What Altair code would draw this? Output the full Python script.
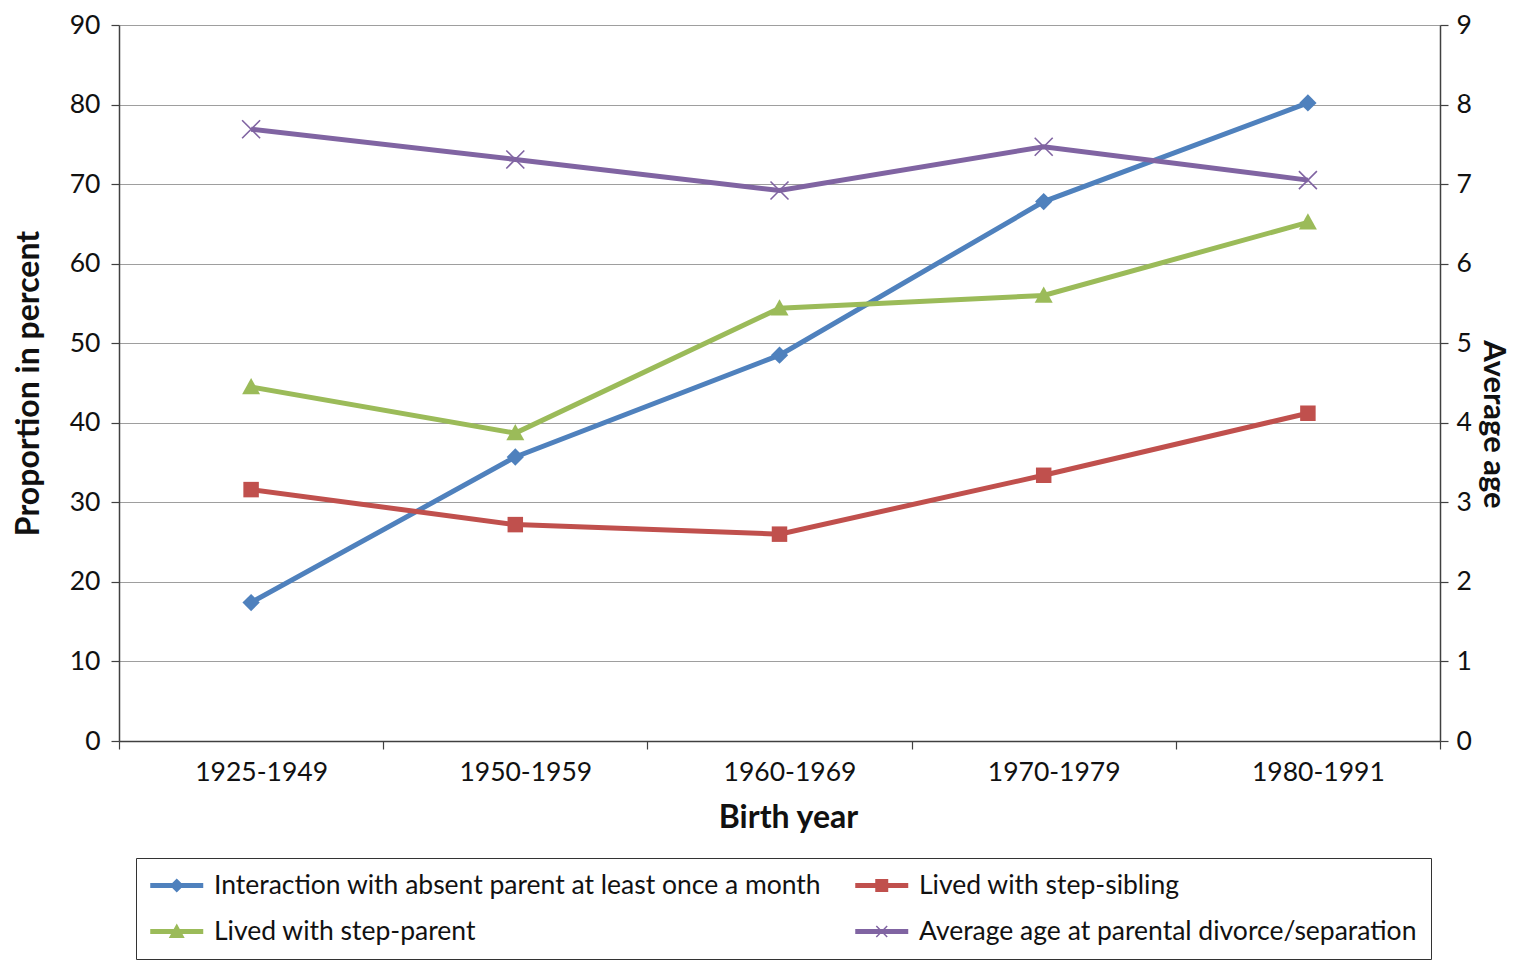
import altair as alt
import pandas as pd

categories = ["1925-1949", "1950-1959", "1960-1969", "1970-1979", "1980-1991"]
interaction = [17.4, 35.7, 48.5, 67.8, 80.2]
step_sibling = [31.6, 27.2, 26.0, 33.4, 41.2]
step_parent = [44.5, 38.7, 54.4, 56.0, 65.2]
avg_age = [7.69, 7.31, 6.92, 7.47, 7.05]

# order follows the legend's column-wise layout
series_names = [
    "Interaction with absent parent at least once a month",
    "Lived with step-parent",
    "Lived with step-sibling",
    "Average age at parental divorce/separation",
]
series_values = [interaction, step_parent, step_sibling, avg_age]
series_colors = ["#4F81BD", "#9BBB59", "#C0504D", "#8064A2"]
left_ticks = list(range(0, 91, 10))
right_ticks = list(range(0, 10))

FONT = "Lato"
TXT = "#111111"
AXC = "#404040"

rows = []
for name, vals in zip(series_names, series_values):
    for c, v in zip(categories, vals):
        rows.append({"category": c, "series": name, "value": v})
df = pd.DataFrame(rows)

# marker shapes on the plot
marker_shapes = [
    dict(shape="M0,-1L1,0L0,1L-1,0Z", size=300, filled=True),
    dict(shape="M0,-1L1,0.8L-1,0.8Z", size=324, filled=True),
    dict(shape="square", size=240, filled=True),
    dict(shape="M-1,-1L1,1M-1,1L1,-1", size=324, filled=False, strokeWidth=1.6),
]

# legend symbols: line + marker (unit box, x from -1 to 3, marker at x=1)
LINE = "M-1,-0.19H3V0.19H-1Z"
legend_paths = [
    LINE + "M1,-0.53L1.53,0L1,0.53L0.47,0Z",
    LINE + "M1,-0.6L1.6,0.5H0.4Z",
    LINE + "M0.51,-0.49H1.49V0.49H0.51Z",
    LINE + "M0.55,-0.37L0.63,-0.45L1.45,0.37L1.37,0.45Z"
         + "M1.45,-0.37L0.63,0.45L0.55,0.37L1.37,-0.45Z",
]

x_enc = alt.X(
    "category:N",
    sort=categories,
    bandPosition=0.5,
    scale=alt.Scale(type="band", domain=categories, paddingInner=0, paddingOuter=0),
    axis=alt.Axis(
        tickBand="extent", tickSize=8, tickColor=AXC, tickWidth=1.2,
        domainColor=AXC, domainWidth=1.5, labelAngle=0, labelOffset=10,
        labelFont=FONT, labelFontSize=26.5, labelColor=TXT, labelPadding=10,
        titleFont=FONT, titleFontSize=32, titleFontWeight="bold", titleColor=TXT,
        titlePadding=17, titleX=669, grid=False,
    ),
    title="Birth year",
)

y_left = alt.Y(
    "value:Q",
    scale=alt.Scale(domain=[0, 90], nice=False, zero=True),
    axis=alt.Axis(
        values=left_ticks, grid=True, gridColor="#9E9E9E", gridWidth=1.2,
        tickSize=8, tickColor=AXC, tickWidth=1.2, domainColor=AXC, domainWidth=1.5,
        labelFont=FONT, labelFontSize=26.5, labelColor=TXT, labelPadding=11,
        titleFont=FONT, titleFontSize=32, titleFontWeight="bold", titleColor=TXT,
        titlePadding=24,
    ),
    title="Proportion in percent",
)

y_right = alt.Y(
    "value:Q",
    scale=alt.Scale(domain=[0, 9], nice=False, zero=True),
    axis=alt.Axis(
        orient="right", values=right_ticks, grid=False,
        tickSize=8, tickColor=AXC, tickWidth=1.2, domainColor=AXC, domainWidth=1.5,
        labelFont=FONT, labelFontSize=26.5, labelColor=TXT, labelPadding=8,
        titleFont=FONT, titleFontSize=31, titleFontWeight="bold", titleColor=TXT,
        titlePadding=5, titleY=399,
    ),
    title="Average age",
)

base = alt.Chart(df)

left_layers = []
right_layers = []
for i, name in enumerate(series_names):
    y_enc = y_right if i == 3 else y_left
    line = base.transform_filter(alt.datum.series == name).mark_line(
        color=series_colors[i], strokeWidth=5
    ).encode(x=x_enc, y=y_enc)
    ms = marker_shapes[i]
    pt = base.transform_filter(alt.datum.series == name).mark_point(
        color=series_colors[i], opacity=1, **ms
    ).encode(x=x_enc, y=y_enc)
    if i == 3:
        right_layers += [line, pt]
    else:
        left_layers += [line, pt]

legend = alt.Legend(
    title=None, orient="none", legendX=17, legendY=833, columns=2,
    columnPadding=33, rowPadding=19, padding=14, strokeColor="#333333",
    symbolSize=702, symbolStrokeWidth=0, symbolOpacity=1, labelOffset=37,
    labelFont=FONT, labelFontSize=26.5, labelColor=TXT, labelLimit=1000,
)

legend_layer = base.mark_point(filled=True, opacity=0).encode(
    x=x_enc,
    y=y_left,
    color=alt.Color("series:N", scale=alt.Scale(domain=series_names, range=series_colors), legend=legend),
    shape=alt.Shape("series:N", scale=alt.Scale(domain=series_names, range=legend_paths), legend=legend),
)

left = alt.layer(*left_layers, legend_layer)
right = alt.layer(*right_layers)

chart = (
    alt.layer(left, right)
    .resolve_scale(y="independent")
    .properties(width=1321, height=716, padding={"left": 4, "top": 4, "right": 8, "bottom": 0})
    .configure(font=FONT)
    .configure_view(stroke=None)
)

chart.save("out.html", embed_options={"renderer": "svg", "actions": False})
